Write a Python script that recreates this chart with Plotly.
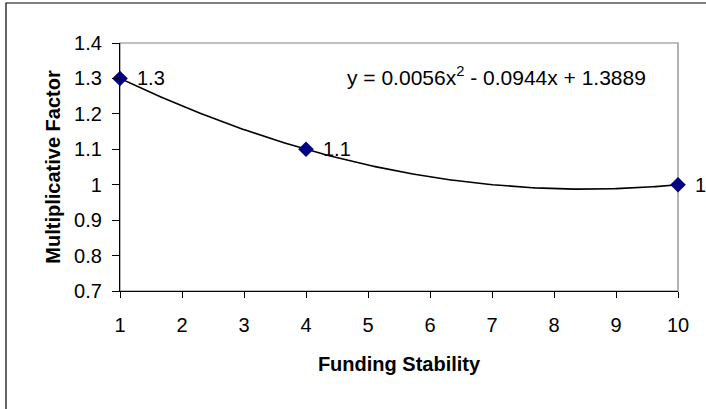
import numpy as np
import plotly.graph_objects as go

# Data
x_vals = [1, 4, 10]
y_vals = [1.3, 1.1, 1.0]
point_labels = ["1.3", "1.1", "1"]
x_ticks = [1, 2, 3, 4, 5, 6, 7, 8, 9, 10]
y_ticks = [0.7, 0.8, 0.9, 1.0, 1.1, 1.2, 1.3, 1.4]
y_tick_text = ["0.7", "0.8", "0.9", "1", "1.1", "1.2", "1.3", "1.4"]
x_title = "Funding Stability"
y_title = "Multiplicative Factor"
equation = "y = 0.0056x<sup>2</sup> - 0.0944x + 1.3889"

FONT = "Arial, Liberation Sans, sans-serif"
FS = 20

# Polynomial (order 2) trendline fitted from the data
coef = np.polyfit(x_vals, y_vals, 2)
xt = np.linspace(min(x_vals), max(x_vals), 200)
yt = np.polyval(coef, xt)

fig = go.Figure()
fig.add_trace(go.Scatter(x=xt, y=yt, mode="lines",
                         line=dict(color="black", width=1.6),
                         hoverinfo="skip", showlegend=False))
fig.add_trace(go.Scatter(x=x_vals, y=y_vals, mode="markers",
                         marker=dict(symbol="diamond", color="#000080", size=12),
                         showlegend=False, cliponaxis=False))

for xv, yv, lab in zip(x_vals, y_vals, point_labels):
    fig.add_annotation(x=xv, y=yv, text=lab, showarrow=False, xanchor="left",
                       yanchor="middle", xshift=15,
                       font=dict(family=FONT, size=FS, color="black"))

W, H = 706, 409
L, R, T, B = 120, 28, 43, 118
pw = W - L - R
ph = H - T - B

def px_to_paper_x(px):
    return (px - L) / pw

def px_to_paper_y(py):
    return (H - B - py) / ph

# outer chart border
fig.add_shape(type="rect", xref="paper", yref="paper",
              x0=px_to_paper_x(6), x1=px_to_paper_x(730),
              y0=px_to_paper_y(430), y1=px_to_paper_y(3),
              line=dict(color="black", width=1.2), layer="below")
# plot area border (gray)
fig.add_shape(type="rect", xref="paper", yref="paper", x0=0, x1=1, y0=0, y1=1,
              line=dict(color="#808080", width=1.2), layer="below")

fig.add_annotation(x=px_to_paper_x(345), y=px_to_paper_y(76), xref="paper", yref="paper",
                   text=equation, showarrow=False, xanchor="left", yanchor="middle",
                   font=dict(family=FONT, size=21, color="black"))

fig.update_layout(
    width=W, height=H,
    margin=dict(l=L, r=R, t=T, b=B),
    paper_bgcolor="white", plot_bgcolor="white",
    font=dict(family=FONT, size=FS, color="black"),
    xaxis=dict(range=[1, 10], tickvals=x_ticks, ticks="outside", ticklen=6,
               tickcolor="black", showline=True, linecolor="black", linewidth=1.2,
               showgrid=False, zeroline=False, ticklabelstandoff=10,
               title=dict(text="<b>" + x_title + "</b>", font=dict(size=FS), standoff=21)),
    yaxis=dict(range=[0.7, 1.4], tickvals=y_ticks, ticktext=y_tick_text,
               ticks="outside", ticklen=7,
               tickcolor="black", showline=True, linecolor="black", linewidth=1.2,
               showgrid=False, zeroline=False, ticklabelstandoff=6,
               title=dict(text="<b>" + y_title + "</b>", font=dict(size=FS), standoff=8)),
)

fig.write_html("out.html", config={"displayModeBar": False},
               post_script="document.body.style.margin='0px';")
